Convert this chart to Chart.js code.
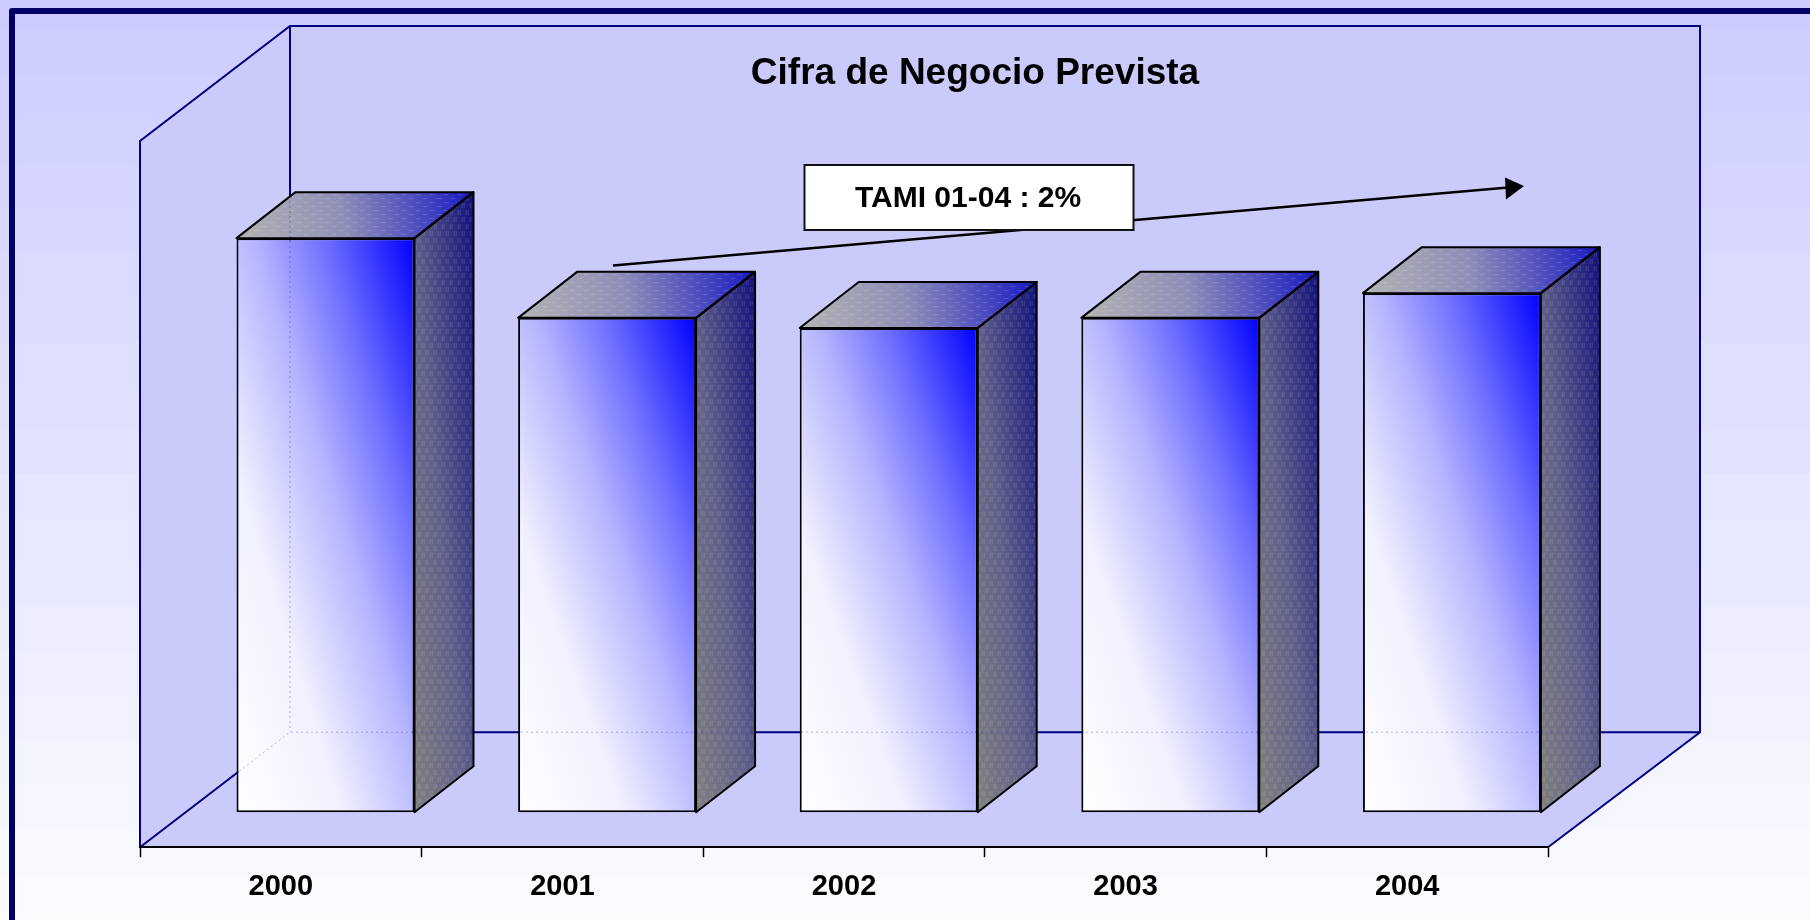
<!DOCTYPE html>
<html>
<head>
<meta charset="utf-8">
<style>html,body{margin:0;padding:0;background:#fff;overflow:hidden}#wrap{width:1810px;height:920px;position:relative}canvas{display:block}</style>
<script src="https://cdn.jsdelivr.net/npm/chart.js@4/dist/chart.umd.min.js"></script>
</head>
<body>
<div id="wrap"><canvas id="c" width="1810" height="920"></canvas></div>
<script>
const categories = ['2000', '2001', '2002', '2003', '2004'];
const turnover = [5690, 4900, 4800, 4900, 5145];
const axisMax = 7000;
const titleText = 'Cifra de Negocio Prevista';
const noteText = 'TAMI 01-04 : 2%';

const WALL_DX = 150, WALL_DX_R = 152, WALL_DY = 115;
const BAR_DX = 44.7, BAR_DY = 35, FACE_DX = 59, FACE_DY = 46;
const BAR_FRACTION = 0.632;
const NAVY = '#000080', WALL = '#cbcbfb';

function lerpBand(t){
  const a = [204,204,255], b = [253,253,255];
  return 'rgb(' + a.map((v,i)=>Math.round(v+(b[i]-v)*t)).join(',') + ')';
}
function diagGradient(c, l, t, r, b, stops){
  const w = r-l, h = b-t, n = Math.hypot(w,h);
  const dx = h/n, dy = w/n;           // gradient direction, y up
  const k = w*dx + h*dy;
  const g = c.createLinearGradient(l, b, l+dx*k, b-dy*k);
  stops.forEach(s=>g.addColorStop(s[0], s[1]));
  return g;
}
function makePattern(c, horizontal){
  const p = document.createElement('canvas');
  p.width = horizontal ? 14 : 8; p.height = horizontal ? 8 : 14;
  const x = p.getContext('2d');
  x.fillStyle = 'rgba(255,255,255,0.14)';
  if (horizontal){ x.fillRect(0,1,5,1); x.fillRect(7,5,5,1); }
  else { x.fillRect(1,0,1,5); x.fillRect(3,0,1,5); x.fillRect(5,7,1,5); x.fillRect(7,7,1,5); }
  return c.createPattern(p,'repeat');
}
function poly(c, pts){
  c.beginPath();
  pts.forEach((p,i)=> i? c.lineTo(p[0],p[1]) : c.moveTo(p[0],p[1]));
  c.closePath();
}
function wallLines(a){
  const L=a.left,R=a.right,T=a.top,B=a.bottom;
  const bl=L+WALL_DX, br=R+WALL_DX_R, bb=B-WALL_DY, bt=T-WALL_DY;
  return [[[L,B],[L,T],[bl,bt],[br,bt],[br,bb],[R,B]],[[L,B],[bl,bb],[br,bb]],[[bl,bt],[bl,bb]]];
}
function strokeLines(c, lines){
  lines.forEach(l=>{ c.beginPath(); l.forEach((p,i)=> i? c.lineTo(p[0],p[1]) : c.moveTo(p[0],p[1])); c.stroke(); });
}

const scene = {
  id:'scene',
  beforeDraw(chart){
    const c = chart.ctx, H = chart.height, W = chart.width;
    const bh = 44.4, n = Math.ceil(H/bh)+1;
    for (let i=0;i<n;i++){ c.fillStyle = lerpBand(i/(n-1)); c.fillRect(0,-14.6+i*bh,W,bh+1); }
    const a = chart.chartArea, L=a.left,R=a.right,T=a.top,B=a.bottom;
    const bl=L+WALL_DX, br=R+WALL_DX_R, bb=B-WALL_DY, bt=T-WALL_DY;
    c.save();
    c.fillStyle = WALL;
    poly(c,[[bl,bt],[br,bt],[br,bb],[R,B],[L,B],[L,T]]); c.fill();
    c.strokeStyle = NAVY; c.lineWidth = 2; c.lineJoin='miter';
    strokeLines(c, wallLines(a));
    c.restore();
  },
  beforeDatasetsDraw(chart){
    chart.ctx.save();
    chart.ctx.translate(BAR_DX,-BAR_DY);
  },
  afterDatasetsDraw(chart){
    const c = chart.ctx;
    const bars = chart.getDatasetMeta(0).data;
    const pv = makePattern(c,false), ph = makePattern(c,true);
    const sil = [];
    bars.forEach(el=>{
      const {x,y,base,width} = el.getProps(['x','y','base','width'],true);
      const l=x-width/2, r=x+width/2, t=y, b=base;
      const side=[[r,t],[r+FACE_DX,t-FACE_DY],[r+FACE_DX,b-FACE_DY],[r,b]];
      const top=[[l,t],[l+FACE_DX,t-FACE_DY],[r+FACE_DX,t-FACE_DY],[r,t]];
      const sg = diagGradient(c,r,t-FACE_DY,r+FACE_DX,b,[[0,'#808080'],[0.45,'#60608a'],[1,'#10107c']]);
      c.fillStyle = sg; poly(c,side); c.fill();
      c.fillStyle = pv; poly(c,side); c.fill();
      const tg = c.createLinearGradient(l,t,r+FACE_DX,t-FACE_DY);
      tg.addColorStop(0,'#b4b4b4'); tg.addColorStop(0.45,'#8f8fb8'); tg.addColorStop(1,'#1818c4');
      c.fillStyle = tg; poly(c,top); c.fill();
      c.fillStyle = ph; poly(c,top); c.fill();
      c.strokeStyle='#000'; c.lineWidth=2; c.lineJoin='round';
      poly(c,side); c.stroke();
      poly(c,top); c.stroke();
      sil.push([[l,t],[l+FACE_DX,t-FACE_DY],[r+FACE_DX,t-FACE_DY],[r+FACE_DX,b-FACE_DY],[r,b],[l,b]]);
    });
    c.restore();
    // back-wall lines faintly showing through the bars
    sil.forEach(s=>{
      c.save();
      poly(c,s.map(p=>[p[0]+BAR_DX,p[1]-BAR_DY])); c.clip();
      c.strokeStyle='rgba(0,0,128,0.28)'; c.lineWidth=1; c.setLineDash([2,3]);
      strokeLines(c, wallLines(chart.chartArea));
      c.restore();
    });
  },
  afterDraw(chart){
    const c = chart.ctx;
    c.save();
    // title
    c.fillStyle='#000'; c.textAlign='center'; c.textBaseline='middle';
    c.font='bold 37px "Liberation Sans", Arial, sans-serif';
    c.fillText(titleText,975,74);
    // trend arrow
    const sx=613, sy=265.5, ex=1524, ey=186;
    c.strokeStyle='#000'; c.lineWidth=2.5;
    const ang=Math.atan2(ey-sy,ex-sx);
    c.beginPath(); c.moveTo(sx,sy); c.lineTo(ex-16*Math.cos(ang),ey-16*Math.sin(ang)); c.stroke();
    c.fillStyle='#000';
    poly(c,[[ex,ey],[1505,177.5],[1506,199.5]]); c.fill();
    // note box
    c.fillStyle='#fff'; c.fillRect(804.5,165,329,65);
    c.strokeStyle='#111'; c.lineWidth=2; c.strokeRect(804.5,165,329,65);
    c.fillStyle='#000';
    c.font='bold 30px "Liberation Sans", Arial, sans-serif';
    c.fillText(noteText,968,198.5);
    // frame
    c.strokeStyle='#000066'; c.lineWidth=6; c.lineJoin='round';
    c.beginPath(); c.moveTo(12,925); c.lineTo(12,11); c.lineTo(1815,11); c.stroke();
    c.restore();
  }
};

new Chart(document.getElementById('c'),{
  type:'bar',
  data:{
    labels:categories,
    datasets:[{
      label:'Cifra de Negocio',
      data:turnover,
      clip:false,
      barPercentage:BAR_FRACTION,
      categoryPercentage:1,
      borderWidth:2,
      borderColor:'#000',
      borderSkipped:false,
      backgroundColor(ctx){
        const ch=ctx.chart, xs=ch.scales.x, ys=ch.scales.y;
        if(!xs||!ys||!ch.chartArea||ctx.dataIndex===undefined) return '#8080ff';
        const w=(xs.width/categories.length)*BAR_FRACTION;
        const cx=xs.getPixelForValue(ctx.dataIndex);
        return diagGradient(ch.ctx,cx-w/2,ys.getPixelForValue(turnover[ctx.dataIndex]),cx+w/2,ys.getPixelForValue(0),
          [[0,'#ffffff'],[0.3,'#f0f0ff'],[0.55,'#b4b4ff'],[0.75,'#6c6cff'],[1,'#0000ff']]);
      }
    }]
  },
  options:{
    responsive:false,
    animation:false,
    layout:{padding:{left:140,right:262,top:141,bottom:4}},
    plugins:{legend:{display:false},tooltip:{enabled:false},title:{display:false}},
    scales:{
      x:{
        offset:true,
        border:{display:true,color:'#000',width:2},
        grid:{display:true,drawOnChartArea:false,drawTicks:true,tickLength:10,tickColor:'#000',tickWidth:1.5,offset:true},
        ticks:{color:'#000',padding:12,maxRotation:0,font:{family:'"Liberation Sans", Arial, sans-serif',size:29,weight:'bold'}}
      },
      y:{display:false,min:0,max:axisMax}
    }
  },
  plugins:[scene]
});
</script>
</body>
</html>
